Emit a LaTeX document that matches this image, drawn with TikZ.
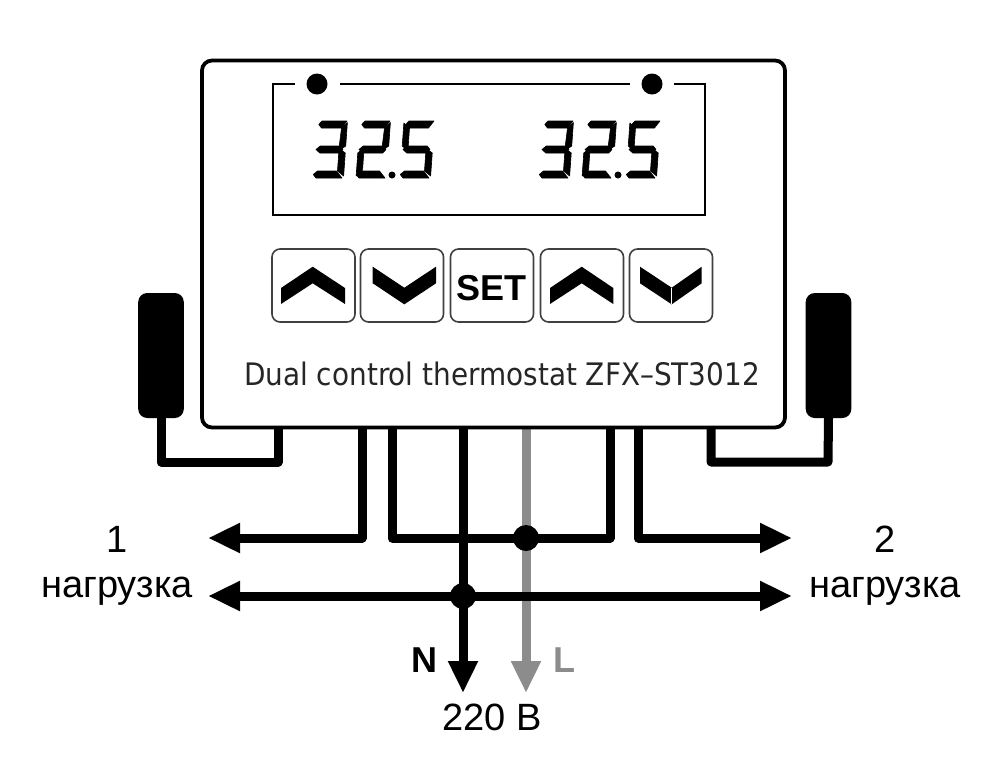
\documentclass[tikz,border=0pt]{standalone}
\usepackage{fontspec}
\setmainfont{Liberation Sans}
\newfontfamily\labelfont[FakeStretch=0.9]{DejaVu Sans}
\usetikzlibrary{arrows.meta}
\newcommand{\SegA}{\fill (2,53.5)--(5,57)--(30,57)--(25,50)--(5,50)--cycle;}
\newcommand{\SegB}{\fill (30.5,55.5)--(30.5,32)--(27,29.5)--(24,32)--(25,50)--cycle;}
\newcommand{\SegC}{\fill (30.5,25)--(30.5,2)--(24,7)--(24,25)--(27,27.5)--cycle;}
\newcommand{\SegD}{\fill (0,3.5)--(4,7)--(23,7)--(29,0)--(3,0)--cycle;}
\newcommand{\SegE}{\fill (0,25)--(3,27.5)--(6,25)--(6,8)--(0,2)--cycle;}
\newcommand{\SegF}{\fill (0,32)--(3,29.5)--(6,32)--(6,50)--(0,55)--cycle;}
\newcommand{\SegG}{\fill (1,28.5)--(5,25)--(25,25)--(28,28.5)--(25,32)--(5,32)--cycle;}
\newcommand{\DigitAt}[2]{\begin{scope}[shift={(#1,178)},x=0.5pt,y=0.5pt,xslant=0.07,every path/.append style={draw,line width=0.3pt,line join=round}]#2\end{scope}}
\newcommand{\ReadOut}[1]{%
  \DigitAt{#1}{\SegA\SegB\SegC\SegD\SegG}%
  \DigitAt{#1+43}{\SegA\SegB\SegE\SegD\SegG}%
  \DigitAt{#1+87}{\SegA\SegF\SegG\SegC\SegD}%
  \fill (#1+79,175) circle (3.5);}
\tikzset{
  x=0.5pt,y=-0.5pt,
  casebox/.style={draw,line width=1.9pt,rounded corners=5pt,fill=white,inner sep=0pt,outer sep=0pt,minimum width=291.5pt,minimum height=183.5pt},
  keybox/.style={draw=black!75,line width=0.8pt,rounded corners=4pt,fill=white,inner sep=0pt,outer sep=0pt,minimum width=41.5pt,minimum height=36.5pt},
  probe/.style={fill=black,rounded corners=4.5pt,inner sep=0pt,outer sep=0pt,minimum width=22.8pt,minimum height=62.5pt},
  wire/.style={line width=4.5pt,line join=round,black},
  feed/.style={line width=4.5pt,gray!90},
  tip/.tip={Triangle[length=16pt,width=14pt]},
  junction/.style={circle,fill=black,inner sep=0pt,outer sep=0pt,minimum size=13pt},
  screen/.style={line width=1.3pt,line cap=butt},
  led/.style={circle,fill=black,inner sep=0pt,outer sep=0pt,minimum size=10.5pt},
  txt/.style={inner sep=0pt,outer sep=0pt,anchor=base,font=\fontsize{19}{21}\selectfont},
  btxt/.style={txt,font=\fontsize{18}{20}\bfseries\selectfont},
  chev/.style={fill=black}
}
\begin{document}
\begin{tikzpicture}
\useasboundingbox (0,0) rectangle (1000,777);
\fill[white] (0,0) rectangle (1000,777);
% named points
\coordinate (tA) at (278,428);
\coordinate (tB) at (362,428);
\coordinate (tC) at (392,428);
\coordinate (tN) at (463,428);
\coordinate (tL) at (526,428);
\coordinate (tD) at (610,428);
\coordinate (tE) at (638,428);
\coordinate (tF) at (711,428);
\coordinate (bA) at (161,462);
\coordinate (bF) at (828,462);
\coordinate (lTop) at (208,538);
\coordinate (rTop) at (792,538);
\coordinate (lLow) at (208,596);
\coordinate (rLow) at (792,596);
\coordinate (endN) at (463,693);
\coordinate (endL) at (526,693);
% probes
\node[probe] (pl) at (161,355.5) {};
\node[probe] (pr) at (828.5,355.5) {};
% grey live wire
\draw[feed,-{tip[gray!90]}] (tL) -- (endL);
% probe wires
\draw[wire] (pl.south) -- (bA) -| (tA);
\draw[wire] (pr.south) -- (bF) -| (tF);
% load wires
\draw[wire,-tip] (tB) |- (lTop);
\draw[wire] (tC) |- (526,538) -| (tD);
\draw[wire,-tip] (tE) |- (rTop);
\draw[wire,tip-tip] (lLow) -- (rLow);
\draw[wire,-tip] (tN) -- (endN);
\node[junction] (j1) at (526,538) {};
\node[junction] (j2) at (463,596) {};
% case
\node[casebox] (case) at (493.5,244) {};
% screen
\coordinate (s1) at (295,84);
\coordinate (s2) at (273,84);
\coordinate (s3) at (273,215);
\coordinate (s4) at (705,215);
\coordinate (s5) at (705,84);
\coordinate (s6) at (674,84);
\coordinate (s7) at (340,84);
\coordinate (s8) at (630,84);
\draw[screen] (s1) -- (s2) -- (s3) -- (s4) -- (s5) -- (s6);
\draw[screen] (s7) -- (s8);
\node[led] (l1) at (317,84) {};
\node[led] (l2) at (652,84) {};
\ReadOut{313}
\ReadOut{539}
% keys
\node[keybox] (k1) at (313.5,285.5) {};
\node[keybox] (k2) at (402,285.5) {};
\node[keybox] (k3) at (492,285.5) {};
\node[keybox] (k4) at (582,285.5) {};
\node[keybox] (k5) at (671,285.5) {};
\fill[chev] (281,288)--(312.7,266.7)--(345,288)--(345,304)--(312.7,283.3)--(281,304)--cycle;
\fill[chev] (372.7,266.7)--(404.3,287.7)--(436,266.7)--(436,283.3)--(404.3,304.3)--(372.7,283.3)--cycle;
\fill[chev] (550,288)--(581.7,266.7)--(613.3,288)--(613.3,304)--(581.7,283.3)--(550,304)--cycle;
\fill[chev] (640,266.7)--(671.7,287.7)--(701.7,266.7)--(701.7,283.3)--(671.7,304.3)--(640,283.3)--cycle;
\draw[white,line width=0.4pt] (671.7,287.7)--(671.7,304.3);
\node[btxt] (set) at (491.5,300) {SET};
\node[txt,font=\fontsize{15.5}{18}\labelfont,text=black!85] (title) at (502,385) {Dual control thermostat ZFX–ST3012};
% labels
\node[txt] (n1) at (117,552) {1};
\node[txt] (n2) at (885,552) {2};
\node[txt] (ll) at (117,597) {нагрузка};
\node[txt] (lr) at (885,597) {нагрузка};
\node[txt] (v) at (492,730) {220 В};
\node[btxt] (nn) at (424,672) {N};
\node[btxt,text=gray!90] (nl) at (564,672) {L};
\end{tikzpicture}
\end{document}
